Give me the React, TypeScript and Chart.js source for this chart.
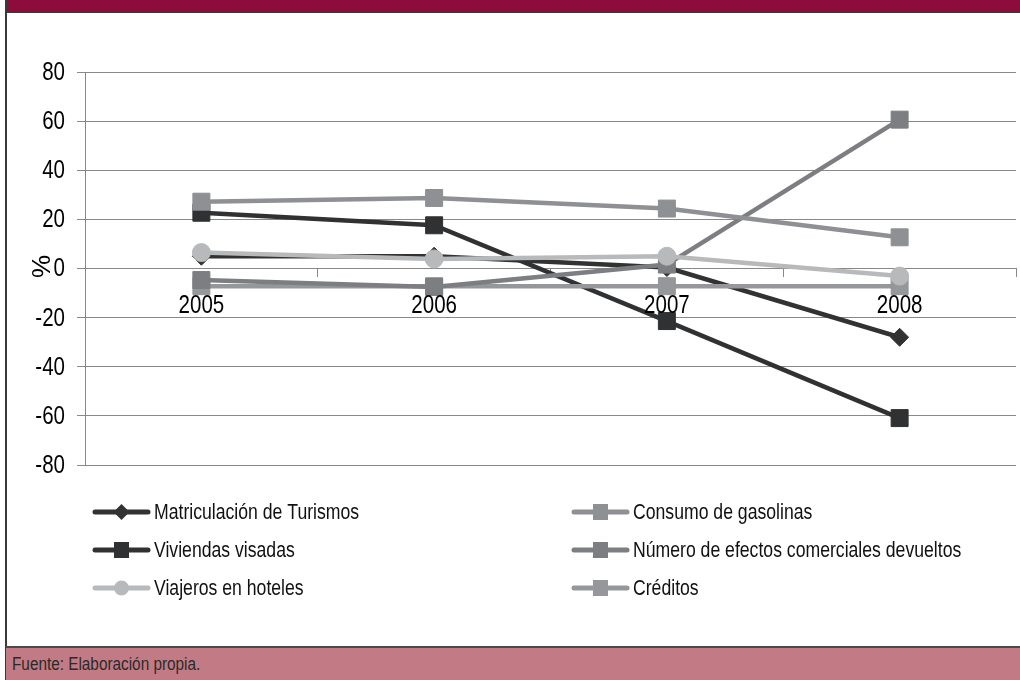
import React, { useEffect, useRef } from 'react';
import { Chart, registerables } from 'chart.js';

Chart.register(...registerables);

const years = ['2005', '2006', '2007', '2008'];
const yMin = -80;
const yMax = 80;
const yStep = 20;

const seriesNames = [
  'Matriculación de Turismos',
  'Viviendas visadas',
  'Viajeros en hoteles',
  'Consumo de gasolinas',
  'Número de efectos comerciales devueltos',
  'Créditos',
];

const matriculacion = [5.0, 5.0, 0.4, -28.0];
const viviendas = [22.7, 17.6, -21.4, -60.9];
const viajeros = [6.5, 3.9, 5.0, -3.1];
const consumo = [27.2, 28.7, 24.4, 12.7];
const numero = [-4.7, -7.5, 1.6, 60.6];
const creditos = [-7.2, -7.2, -7.2, -7.2];

const yTitle = '%';
const sourceText = 'Fuente: Elaboración propia.';

const FONT = '"Liberation Sans Narrow", "Arial Narrow", "Liberation Sans", Arial, sans-serif';
const SQUEEZE = 0.82;

const colors = ['#323232', '#303133', '#b7b9bb', '#8e9094', '#7d7e82', '#95979a'];
const styles = ['rectRot', 'rect', 'circle', 'rect', 'rect', 'rect'];
const radii = [9, 12, 9, 12, 12, 12];
const orders = [5, 4, 0, 1, 2, 3];

function squeezedText(
  ctx: CanvasRenderingContext2D,
  text: string,
  x: number,
  y: number,
  size: number,
  align: CanvasTextAlign,
  color: string
) {
  ctx.save();
  ctx.translate(x, y);
  ctx.scale(SQUEEZE, 1);
  ctx.font = size + 'px ' + FONT;
  ctx.fillStyle = color;
  ctx.textAlign = align;
  ctx.textBaseline = 'middle';
  ctx.fillText(text, 0, 0);
  ctx.restore();
}

const labelsPlugin = {
  id: 'squeezedLabels',
  afterDraw(chart: any) {
    const ctx = chart.ctx as CanvasRenderingContext2D;
    const ys = chart.scales.y;
    const xs = chart.scales.x;
    ys.ticks.forEach((t: any) => {
      squeezedText(ctx, String(t.value), 65, ys.getPixelForValue(t.value) + 1, 25, 'right', '#000');
    });
    const zeroY = ys.getPixelForValue(0);
    (chart.data.labels as string[]).forEach((l, i) => {
      squeezedText(ctx, l, xs.getPixelForValue(i), zeroY + 38, 25, 'center', '#000');
    });
    ctx.save();
    ctx.translate(43, zeroY - 2);
    ctx.rotate(-Math.PI / 2);
    ctx.fillStyle = '#000';
    ctx.font = '26px ' + FONT;
    ctx.textAlign = 'center';
    ctx.textBaseline = 'middle';
    ctx.fillText(yTitle, 0, 0);
    ctx.restore();
  },
};

const legendPlugin = {
  id: 'customLegend',
  afterDraw(chart: any) {
    const ctx = chart.ctx as CanvasRenderingContext2D;
    chart.data.datasets.forEach((ds: any, i: number) => {
      const col = Math.floor(i / 3);
      const row = i % 3;
      const x0 = col === 0 ? 93 : 572;
      const y = 512 + row * 38;
      ctx.save();
      ctx.strokeStyle = ds.borderColor;
      ctx.lineWidth = 5;
      ctx.lineCap = 'round';
      ctx.beginPath();
      ctx.moveTo(x0 + 2, y);
      ctx.lineTo(x0 + 55, y);
      ctx.stroke();
      const cx = x0 + 28.5;
      ctx.fillStyle = ds.pointBackgroundColor;
      ctx.beginPath();
      if (ds.pointStyle === 'circle') {
        ctx.arc(cx, y, 7.5, 0, Math.PI * 2);
      } else if (ds.pointStyle === 'rectRot') {
        ctx.moveTo(cx - 8, y);
        ctx.lineTo(cx, y - 8);
        ctx.lineTo(cx + 8, y);
        ctx.lineTo(cx, y + 8);
        ctx.closePath();
      } else {
        ctx.rect(cx - 7.5, y - 8, 15, 16);
      }
      ctx.fill();
      ctx.restore();
      squeezedText(ctx, ds.label, x0 + 61, y + 1, 21.5, 'left', '#111');
    });
  },
};

export default function App() {
  const ref = useRef<HTMLCanvasElement>(null);

  useEffect(() => {
    if (!ref.current) return;
    const values = [matriculacion, viviendas, viajeros, consumo, numero, creditos];
    const chart = new Chart(ref.current, {
      type: 'line',
      data: {
        labels: years,
        datasets: values.map((v, i) => ({
          label: seriesNames[i],
          data: v,
          borderColor: colors[i],
          backgroundColor: colors[i],
          pointBackgroundColor: colors[i],
          pointBorderColor: colors[i],
          pointBorderWidth: 1,
          pointStyle: styles[i] as any,
          pointRadius: radii[i],
          borderWidth: 4.5,
          tension: 0,
          order: orders[i],
        })),
      },
      options: {
        responsive: false,
        animation: false,
        layout: { autoPadding: false, padding: { left: 33, top: 72, right: 4, bottom: 215 } },
        plugins: {
          legend: { display: false },
          tooltip: { enabled: false },
        },
        scales: {
          x: {
            type: 'category',
            position: { y: 0 } as any,
            offset: true,
            grid: {
              offset: true,
              drawOnChartArea: false,
              drawTicks: true,
              tickLength: 8,
              color: '#888',
            },
            border: { display: true, color: '#888' },
            ticks: { display: false },
            afterFit: (s: any) => {
              s.paddingLeft = 0;
              s.paddingRight = 0;
            },
          },
          y: {
            min: yMin,
            max: yMax,
            afterFit: (s: any) => {
              s.width = 52;
            },
            ticks: { stepSize: yStep, display: false },
            grid: { color: '#888', tickLength: 8, lineWidth: 1 },
            border: { display: true, color: '#888' },
          },
        },
      },
      plugins: [labelsPlugin, legendPlugin],
    });
    return () => chart.destroy();
  }, []);

  return (
    <div style={{ position: 'fixed', left: 0, top: 0, width: 1020, height: 680, background: '#fff', overflow: 'hidden' }}>
      <div style={{ position: 'absolute', left: 5, top: 0, width: 1015, height: 12, background: '#8c0d3b', borderBottom: '1.5px solid #3a3a3a' }} />
      <div style={{ position: 'absolute', left: 5, top: 0, width: 1.5, height: 680, background: '#3a3a3a' }} />
      <div style={{ position: 'absolute', left: 6, top: 646, width: 1014, height: 34, background: '#c27b84', borderTop: '2px solid #4a4a4a', boxSizing: 'border-box' }}>
        <div
          style={{
            position: 'absolute',
            left: 6,
            top: 5,
            fontFamily: FONT,
            fontSize: 18.7,
            color: '#2a2a2a',
            whiteSpace: 'nowrap',
            transform: 'scaleX(0.82)',
            transformOrigin: 'left center',
          }}
        >
          {sourceText}
        </div>
      </div>
      <canvas ref={ref} width={1020} height={680} style={{ position: 'absolute', left: 0, top: 0, display: 'block' }} />
    </div>
  );
}
